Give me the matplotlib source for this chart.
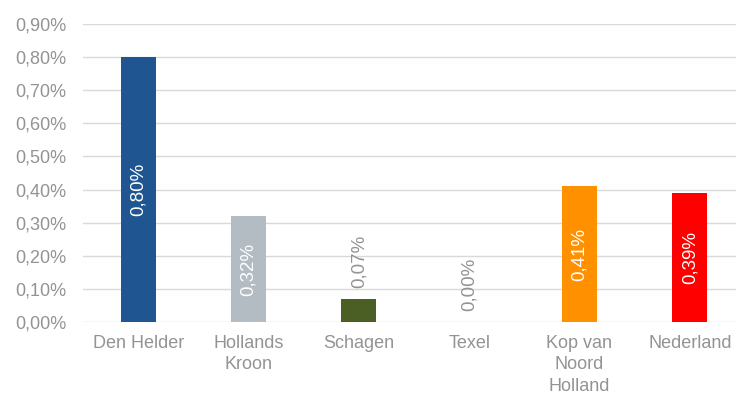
import matplotlib
matplotlib.use("Agg")
import matplotlib.pyplot as plt

categories = ["Den Helder", "Hollands\nKroon", "Schagen", "Texel", "Kop van\nNoord\nHolland", "Nederland"]
values = [0.80, 0.32, 0.07, 0.00, 0.41, 0.39]
labels = ["0,80%", "0,32%", "0,07%", "0,00%", "0,41%", "0,39%"]
colors = ["#1f5591", "#b3bbc3", "#4b5e24", "#cccccc", "#ff9100", "#ff0000"]
inside = [True, True, False, False, True, True]
yticks = [0.0, 0.1, 0.2, 0.3, 0.4, 0.5, 0.6, 0.7, 0.8, 0.9]
ytick_labels = ["0,00%", "0,10%", "0,20%", "0,30%", "0,40%", "0,50%", "0,60%", "0,70%", "0,80%", "0,90%"]

plt.rcParams["font.family"] = ["Liberation Sans", "DejaVu Sans"]
grey = "#939393"

fig = plt.figure(figsize=(7.36, 3.98), dpi=100)
ax = fig.add_axes([83 / 736, 1 - 322 / 398, (745 - 83) / 736, (322 - 24) / 398])

x = list(range(len(categories)))
bars = ax.bar(x, values, width=0.32, color=colors, zorder=3)

for xi, v, lab, ins in zip(x, values, labels, inside):
    if ins:
        ax.text(xi, v / 2, lab, rotation=90, ha="center", va="center",
                color="white", fontsize=13.5, zorder=4)
    else:
        ax.annotate(lab, (xi, v), xytext=(0, 8), textcoords="offset points",
                    rotation=90, ha="center", va="bottom", color=grey,
                    fontsize=13.5, zorder=4)

ax.set_xlim(-0.5, len(categories) - 0.5)
ax.set_ylim(0, 0.9)
ax.set_yticks(yticks)
ax.set_yticklabels(ytick_labels)
ax.set_xticks(x)
ax.set_xticklabels(categories, linespacing=1.38)
ax.tick_params(axis="y", length=0, pad=12, labelsize=13, labelcolor=grey)
ax.tick_params(axis="x", length=0, pad=9, labelsize=13, labelcolor=grey)
ax.grid(axis="y", color="#d9d9d9", linewidth=1, zorder=0)
for s in ax.spines.values():
    s.set_visible(False)

fig.savefig("out.png", dpi=100)
